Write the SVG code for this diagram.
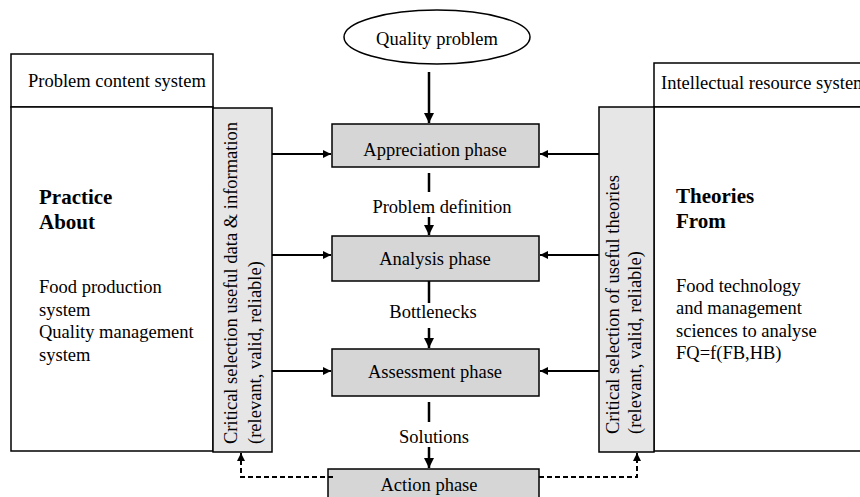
<svg xmlns="http://www.w3.org/2000/svg" width="860" height="497" viewBox="0 0 860 497">
<style>
text{font-family:"Liberation Serif","Times New Roman",serif;font-size:18.5px;fill:#000}
.b{font-weight:bold;font-size:21px}
.c{text-anchor:middle}
.box{fill:#fff;stroke:#000;stroke-width:1.5}
.phase{fill:#d6d6d6;stroke:#000;stroke-width:1.5}
.bar{fill:#e6e6e6;stroke:#000;stroke-width:1.5}
.ln{stroke:#000;stroke-width:2.5;fill:none}
.hl{stroke:#000;stroke-width:2;fill:none}
.dl{stroke:#000;stroke-width:2;fill:none;stroke-dasharray:5 3}
</style>
<defs>
<marker id="ah" viewBox="0 0 10 10" refX="10" refY="5" markerWidth="4" markerHeight="4" orient="auto" markerUnits="strokeWidth">
<path d="M0,0 L10,5 L0,10 z" fill="#000"/>
</marker>
</defs>
<g id="problem-content-system">
<rect class="box" x="11" y="54" width="202" height="53"/>
<rect class="box" x="11" y="107" width="202" height="344"/>
<text x="28" y="87">Problem content system</text>
<text class="b" x="39" y="204">Practice</text>
<text class="b" x="39" y="229">About</text>
<text x="39" y="293">Food production</text>
<text x="39" y="316">system</text>
<text x="39" y="338">Quality management</text>
<text x="39" y="361">system</text>
</g>
<g id="intellectual-resource-system">
<rect class="box" x="654" y="63" width="220" height="44"/>
<rect class="box" x="654" y="107" width="220" height="344"/>
<text x="661" y="89">Intellectual resource system</text>
<text class="b" x="676" y="203">Theories</text>
<text class="b" x="676" y="228">From</text>
<text x="676" y="292">Food technology</text>
<text x="676" y="314">and management</text>
<text x="676" y="337">sciences to analyse</text>
<text x="676" y="359">FQ=f(FB,HB)</text>
</g>
<g id="left-selection">
<rect class="bar" x="213" y="108" width="59" height="344"/>
<text transform="translate(237,444) rotate(-90)">Critical selection useful data &amp; information</text>
<text transform="translate(261,444) rotate(-90)">(relevant, valid, reliable)</text>
</g>
<g id="right-selection">
<rect class="bar" x="599" y="107" width="55" height="345"/>
<text transform="translate(619,434) rotate(-90)">Critical selection of useful theories</text>
<text transform="translate(641,434) rotate(-90)">(relevant, valid, reliable)</text>
</g>
<g id="quality-problem">
<ellipse cx="437" cy="37" rx="93" ry="27" fill="#fff" stroke="#000" stroke-width="1.5"/>
<text class="c" x="437" y="45">Quality problem</text>
</g>
<g id="appreciation-phase">
<rect class="phase" x="332" y="124" width="207" height="43"/>
<text class="c" x="435" y="156">Appreciation phase</text>
</g>
<g id="analysis-phase">
<rect class="phase" x="332" y="236" width="207" height="45"/>
<text class="c" x="435" y="265">Analysis phase</text>
</g>
<g id="assessment-phase">
<rect class="phase" x="332" y="349" width="207" height="47"/>
<text class="c" x="435" y="378">Assessment phase</text>
</g>
<g id="action-phase">
<rect class="phase" x="328" y="469" width="211" height="40"/>
<text class="c" x="429" y="491">Action phase</text>
</g>
<g id="connectors">
<line class="ln" x1="429" y1="72" x2="429" y2="123" marker-end="url(#ah)"/>
<line class="ln" x1="429" y1="173" x2="429" y2="192"/>
<text class="c" x="442" y="213">Problem definition</text>
<line class="ln" x1="429" y1="217" x2="429" y2="235" marker-end="url(#ah)"/>
<line class="ln" x1="429" y1="281" x2="429" y2="303"/>
<text class="c" x="433" y="318">Bottlenecks</text>
<line class="ln" x1="429" y1="328" x2="429" y2="348" marker-end="url(#ah)"/>
<line class="ln" x1="429" y1="402" x2="429" y2="422"/>
<text class="c" x="434" y="443">Solutions</text>
<line class="ln" x1="429" y1="447" x2="429" y2="468" marker-end="url(#ah)"/>
<line class="hl" x1="272" y1="154" x2="331" y2="154" marker-end="url(#ah)"/>
<line class="hl" x1="272" y1="255" x2="331" y2="255" marker-end="url(#ah)"/>
<line class="hl" x1="272" y1="371" x2="331" y2="371" marker-end="url(#ah)"/>
<line class="hl" x1="599" y1="154" x2="540" y2="154" marker-end="url(#ah)"/>
<line class="hl" x1="599" y1="255" x2="540" y2="255" marker-end="url(#ah)"/>
<line class="hl" x1="599" y1="371" x2="540" y2="371" marker-end="url(#ah)"/>
<path class="dl" d="M333,477 H241 V453" marker-end="url(#ah)"/>
<path class="dl" d="M539,477 H637 V453" marker-end="url(#ah)"/>
</g>
</svg>
